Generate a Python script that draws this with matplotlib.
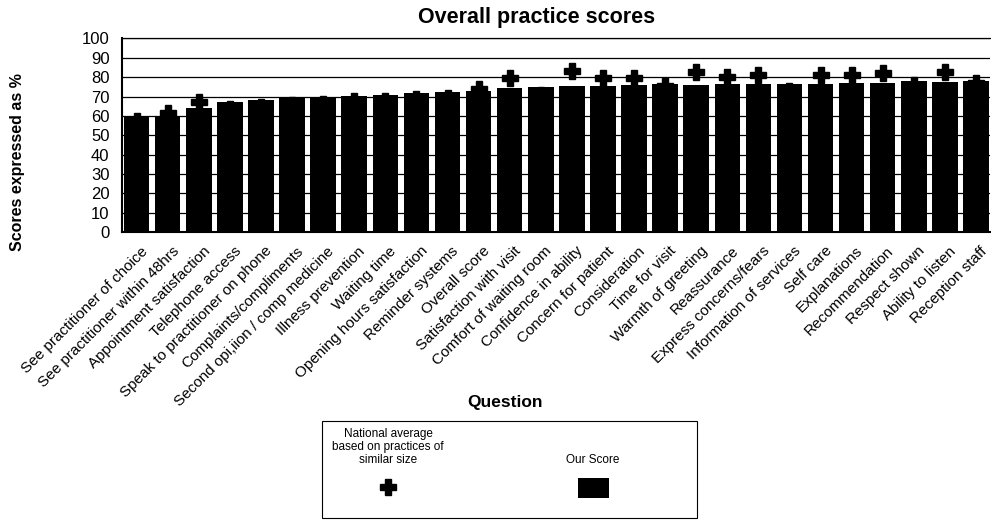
import matplotlib
matplotlib.use("Agg")
import matplotlib.pyplot as plt
import matplotlib.transforms as mtransforms
from matplotlib.patches import Rectangle
from matplotlib.lines import Line2D
import numpy as np

plt.rcParams['font.family'] = ['Liberation Sans', 'DejaVu Sans']

categories = [
    "See practitioner of choice", "See practitioner within 48hrs",
    "Appointment satisfaction", "Telephone access",
    "Speak to practitioner on phone", "Complaints/compliments",
    "Second opi,iion / comp medicine", "Illness prevention", "Waiting time",
    "Opening hours satisfaction", "Reminder systems", "Overall score",
    "Satisfaction with visit", "Comfort of waiting room",
    "Confidence in ability", "Concern for patient", "Consideration",
    "Time for visit", "Warmth of greeting", "Reassurance",
    "Express concerns/fears", "Information of services", "Self care",
    "Explanations", "Recommendation", "Respect shown", "Ability to listen",
    "Reception staff",
]
our_score = [59.5, 59.4, 64.3, 67.2, 68.4, 69.3, 69.8, 70.3, 71.0, 71.9,
             72.4, 72.9, 74.5, 74.7, 75.3, 75.3, 76.2, 76.7, 76.2, 76.4,
             76.4, 76.7, 76.7, 77.1, 77.2, 78.1, 77.6, 78.1]
national_avg = [57.5, 61.5, 67.2, 63.5, 64.5, 65.5, 66.0, 67.8, 67.5, 68.5,
                69.0, 74.0, 79.8, 71.0, 83.2, 79.8, 79.7, 75.5, 82.7, 80.1,
                81.0, 73.0, 81.2, 81.3, 82.2, 76.2, 82.7, 77.2]
yticks = list(range(0, 101, 10))

W, H = 991, 521
fig = plt.figure(figsize=(W / 100, H / 100), dpi=100)
ax = fig.add_axes([122 / W, 1 - 232 / H, (990 - 122) / W, (232 - 38.5) / H])

x = np.arange(len(categories))
ax.bar(x, our_score, width=0.82, color='black', zorder=2)
ax.plot(x, national_avg, linestyle='none', marker='P', markersize=12,
        markerfacecolor='black', markeredgecolor='black', zorder=3)

ax.set_ylim(0, 100)
ax.set_xlim(-0.47, len(categories) - 0.55)
ax.set_yticks(yticks)
ax.set_yticklabels([str(v) for v in yticks], fontsize=12)
ax.yaxis.grid(True, color='black', linewidth=0.9, zorder=0)
ax.set_axisbelow(True)
ax.tick_params(axis='y', length=0, pad=9)
ax.tick_params(axis='x', length=0, pad=0)
ax.spines['right'].set_visible(False)
ax.spines['top'].set_linewidth(0.9)
ax.spines['left'].set_linewidth(1.5)
ax.spines['bottom'].set_linewidth(1.5)

ax.set_xticks(x)
ax.set_xticklabels(categories, rotation=45, ha='right', va='top',
                   rotation_mode='anchor', fontsize=11)
offset = mtransforms.ScaledTranslation(4 / 100, -12 / 100, fig.dpi_scale_trans)
for lab in ax.get_xticklabels():
    lab.set_transform(lab.get_transform() + offset)

fig.text(537 / W, 1 - 18 / H, "Overall practice scores", ha='center',
         va='center', fontsize=15.5, fontweight='bold')
fig.text(18 / W, 1 - 162 / H, "Scores expressed as %", rotation=90,
         ha='center', va='center', fontsize=11.5, fontweight='bold')
fig.text(505 / W, 1 - 403 / H, "Question", ha='center', va='center',
         fontsize=12.5, fontweight='bold')

# legend box
fig.add_artist(Rectangle((322 / W, 1 - 518 / H), 375 / W, 97 / H,
                         transform=fig.transFigure, fill=False,
                         edgecolor='black', linewidth=0.8))
fig.text(388 / W, 1 - 447 / H,
         "National average\nbased on practices of\nsimilar size",
         ha='center', va='center', fontsize=8.5, linespacing=1.15)
fig.text(593 / W, 1 - 460 / H, "Our Score", ha='center', va='center',
         fontsize=8.5)
fig.add_artist(Line2D([388 / W], [1 - 487 / H], transform=fig.transFigure,
                      marker='P', markersize=12, color='black',
                      linestyle='none'))
fig.add_artist(Rectangle((578 / W, 1 - 498 / H), 31 / W, 20 / H,
                         transform=fig.transFigure, facecolor='black',
                         edgecolor='none'))

fig.savefig("out.png", dpi=100)
